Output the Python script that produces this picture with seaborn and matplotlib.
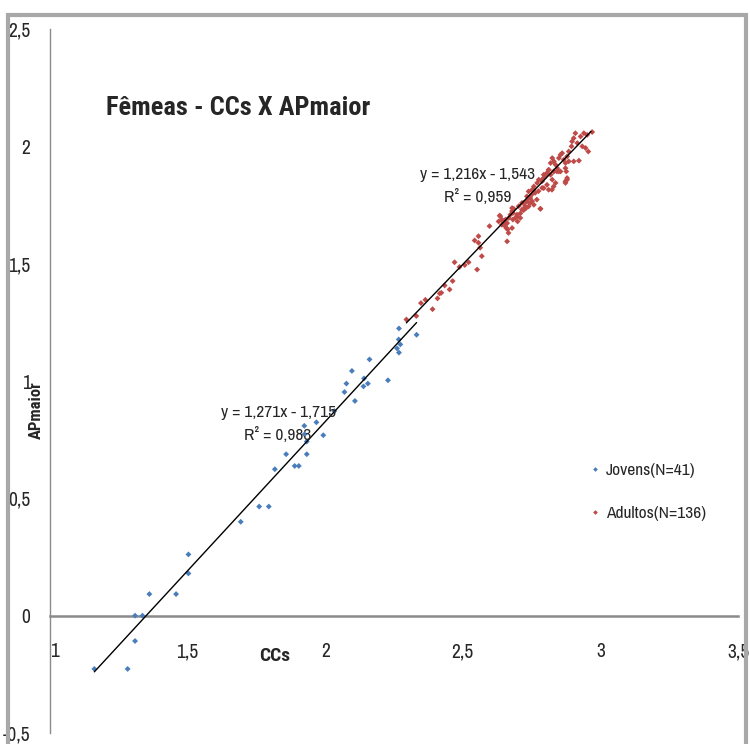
import numpy as np
import pandas as pd
import seaborn as sns
import matplotlib.pyplot as plt
from matplotlib.ticker import FuncFormatter
from matplotlib.patches import Rectangle

# Jovens (blue) - CCs / APmaior
jov_x = [1.161, 1.282, 1.309, 1.309, 1.336, 1.361, 1.458, 1.503, 1.503,
         1.693, 1.760, 1.795, 1.817, 1.858, 1.889, 1.904, 1.933, 1.933,
         1.925, 1.924, 1.968, 1.993, 2.033, 2.070, 2.077, 2.097, 2.108,
         2.139, 2.141, 2.155, 2.161, 2.228, 2.261, 2.268, 2.273, 2.267,
         2.268, 2.332]
jov_y = [-0.227, -0.227, -0.108, 0.0, 0.0, 0.092, 0.092, 0.180, 0.261,
         0.400, 0.465, 0.465, 0.624, 0.688, 0.638, 0.638, 0.688, 0.742,
         0.773, 0.809, 0.824, 0.769, 0.872, 0.953, 0.989, 1.043, 0.915,
         0.977, 1.011, 0.989, 1.092, 1.003, 1.139, 1.121, 1.156, 1.177,
         1.224, 1.197]

# Adultos (red)
adu_x = [2.970, 2.952, 2.940, 2.928, 2.909, 2.903, 2.897, 2.895, 2.916, 2.934,
         2.946, 2.956, 2.885, 2.879, 2.861, 2.855, 2.849, 2.867, 2.873, 2.885,
         2.903, 2.922, 2.825, 2.819, 2.831, 2.837, 2.843, 2.812, 2.806, 2.800,
         2.794, 2.788, 2.819, 2.831, 2.849, 2.873, 2.879, 2.873, 2.837, 2.825,
         2.770, 2.776,
         2.543, 2.557, 2.557, 2.563, 2.569, 2.597, 2.634, 2.642, 2.648, 2.654,
         2.658, 2.663, 2.666, 2.679, 2.682, 2.685, 2.691, 2.697, 2.703, 2.709,
         2.715, 2.721, 2.727, 2.733, 2.739, 2.745, 2.751, 2.757, 2.763, 2.769,
         2.775, 2.782, 2.788,
         2.830, 2.806, 2.794, 2.812, 2.824, 2.782,
         2.295, 2.331, 2.348, 2.364, 2.390, 2.408, 2.416, 2.422, 2.434, 2.452,
         2.463, 2.470, 2.488, 2.507, 2.521, 2.552, 2.661,
         2.679, 2.682, 2.673, 2.667, 2.655, 2.661, 2.658, 2.679, 2.709, 2.697,
         2.699, 2.636, 2.630, 2.642,
         2.758, 2.752, 2.739, 2.733, 2.745, 2.752, 2.758, 2.739, 2.733, 2.721,
         2.724, 2.730, 2.715,
         2.812, 2.806, 2.794, 2.788, 2.800, 2.830, 2.842, 2.855, 2.876, 2.879,
         2.873]
adu_y = [2.061, 2.049, 2.056, 2.042, 2.056, 2.035, 2.021, 2.000, 2.014, 2.000,
         1.993, 1.978, 1.978, 1.957, 1.971, 1.964, 1.950, 1.943, 1.929, 1.936,
         1.936, 1.939, 1.950, 1.929, 1.936, 1.922, 1.907, 1.900, 1.886, 1.879,
         1.865, 1.851, 1.879, 1.893, 1.893, 1.907, 1.865, 1.844, 1.844, 1.858,
         1.844, 1.858,
         1.599, 1.617, 1.589, 1.568, 1.532, 1.660, 1.705, 1.688, 1.677, 1.660,
         1.671, 1.646, 1.631, 1.724, 1.688, 1.734, 1.695, 1.709, 1.745, 1.714,
         1.759, 1.728, 1.745, 1.766, 1.780, 1.759, 1.795, 1.816, 1.802, 1.773,
         1.809, 1.734, 1.823,
         1.829, 1.836, 1.822, 1.815, 1.815, 1.734,
         1.262, 1.277, 1.332, 1.346, 1.306, 1.352, 1.373, 1.376, 1.407, 1.390,
         1.426, 1.506, 1.486, 1.494, 1.506, 1.475, 1.595,
         1.737, 1.716, 1.709, 1.695, 1.688, 1.673, 1.652, 1.652, 1.695, 1.702,
         1.680, 1.702, 1.680, 1.666,
         1.829, 1.815, 1.808, 1.787, 1.780, 1.766, 1.751, 1.744, 1.766, 1.758,
         1.737, 1.737, 1.730,
         1.900, 1.886, 1.879, 1.858, 1.872, 1.893, 1.893, 1.893, 1.893, 1.858,
         1.851]

groups = ["Jovens(N=41)", "Adultos(N=136)"]
colors = ["#4a7ebb", "#be4b48"]

# trend lines (coefficients as printed on the chart)
slopes = [1.271, 1.216]
intercepts = [-1.715, -1.543]
fit_ranges = [(1.161, 2.332), (2.295, 2.966)]
eq_texts = ["y = 1,271x - 1,715\nR² = 0,983", "y = 1,216x - 1,543\nR² = 0,959"]

df = pd.DataFrame({
    "CCs": jov_x + adu_x,
    "APmaior": jov_y + adu_y,
    "grupo": [groups[0]] * len(jov_x) + [groups[1]] * len(adu_x),
})

sns.set_style("white")
plt.rcParams["font.family"] = ["Liberation Sans Narrow", "Archivo Narrow",
                               "Roboto Condensed", "Liberation Sans", "DejaVu Sans"]
bold_fam = ["Liberation Sans Narrow", "Roboto Condensed", "PT Sans Narrow",
            "Archivo Narrow", "Liberation Sans"]

fig = plt.figure(figsize=(7.5, 7.44), dpi=100)
ax = fig.add_axes([0.0667, 0.0148, 0.9173, 0.9462])

sns.scatterplot(data=df, x="CCs", y="APmaior", hue="grupo", palette=colors,
                marker="D", s=9, linewidth=0, ax=ax, zorder=3)

for m, b, (x0, x1) in zip(slopes, intercepts, fit_ranges):
    xs = np.array([x0, x1])
    sns.lineplot(x=xs, y=m * xs + b, color="black", linewidth=1, ax=ax,
                 estimator=None, legend=False, zorder=4)

ax.set_xlim(1, 3.5)
ax.set_ylim(-0.5, 2.5)
ax.set_xticks([1, 1.5, 2, 2.5, 3, 3.5])
ax.set_yticks([-0.5, 0, 0.5, 1, 1.5, 2, 2.5])
fmt = FuncFormatter(lambda v, p: ("%g" % v).replace(".", ","))
ax.xaxis.set_major_formatter(fmt)
ax.yaxis.set_major_formatter(fmt)

ax.spines["top"].set_visible(False)
ax.spines["right"].set_visible(False)
ax.spines["bottom"].set_position(("data", 0))
for s in ["left", "bottom"]:
    ax.spines[s].set_color("#8a8a8a")
ax.spines["bottom"].set_linewidth(1.8)
ax.spines["left"].set_linewidth(1.0)
ax.tick_params(axis="x", direction="out", length=5, color="#b0b0b0",
               labelsize=14, pad=14)
ax.tick_params(axis="y", direction="out", length=4, color="#8a8a8a",
               labelsize=14, pad=10)
for lab in ax.get_xticklabels():
    lab.set_horizontalalignment("left" if lab.get_text() == "1" else "center")
ax.set_xlabel("")
ax.set_ylabel("")

ax.text(1.818, -0.17, "CCs", fontsize=14, fontweight="bold", family=bold_fam,
        ha="center", va="center")
fig.text(0.049, 0.449, "APmaior", fontsize=12, fontweight="bold", family=bold_fam,
         rotation=90, ha="center", va="center")

fig.text(0.317, 0.855, "Fêmeas - CCs X APmaior", fontsize=19, fontweight="bold",
         family=bold_fam, ha="center", va="center")

ax.text(1.829, 0.817, eq_texts[0], fontsize=12.5, ha="center", va="center",
        linespacing=1.5, zorder=5)
ax.text(2.553, 1.830, eq_texts[1], fontsize=12.5, ha="center", va="center",
        linespacing=1.5, zorder=5)

leg = ax.legend(loc="upper left", bbox_to_anchor=(0.78, 0.384), frameon=False,
                fontsize=12.5, handletextpad=0.1, labelspacing=1.6, markerscale=0.8,
                borderaxespad=0, borderpad=0, handlelength=1)

# outer frame of the chart
fig.patches.append(Rectangle((0.011, -0.02), 0.983, 1.0, transform=fig.transFigure,
                             fill=False, edgecolor="#a8a8a8", linewidth=3))

fig.savefig("out.png", dpi=100)
